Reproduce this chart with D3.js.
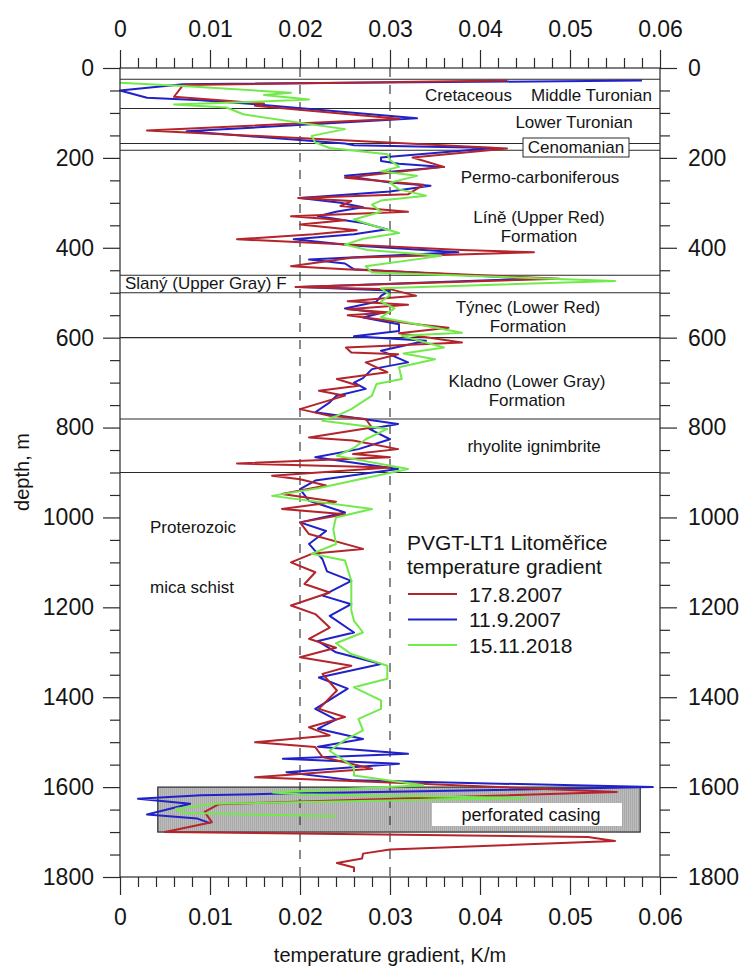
<!DOCTYPE html>
<html>
<head>
<meta charset="utf-8">
<script src="https://cdn.jsdelivr.net/npm/d3@7"></script>
<style>
  body { margin: 0; background: #fff; }
  svg text { font-family: "Liberation Sans", Arial, sans-serif; fill: #151515; }
</style>
</head>
<body>
<svg id="chart" width="745" height="974"></svg>
<script>
// Temperature gradient logs of borehole PVGT-LT1 Litoměřice: [depth m, gradient K/m]
const log_2007_08_17 = [
  [28,0.043],[38,0.007],[64,0.006],[79,0.016],[84,0.015],[113,0.031],[139,0.003],[179,0.043],
  [199,0.0325],[220,0.036],[244,0.025],[260,0.0337],[281,0.032],[289,0.0198],[296,0.0257],[307,0.0245],
  [320,0.032],[330,0.019],[339,0.025],[348,0.020],[361,0.0263],[370,0.0215],[381,0.013],[405,0.038],
  [410,0.046],[422,0.0257],[441,0.019],[448,0.025],[469,0.0488],[487,0.0195],[492,0.030],[507,0.0329],
  [519,0.0253],[527,0.032],[537,0.0253],[544,0.030],[550,0.0253],[570,0.0329],[578,0.0365],[590,0.031],
  [611,0.038],[622,0.0251],[633,0.0257],[637,0.0309],[655,0.0273],[677,0.0297],[692,0.0241],[707,0.0265],
  [718,0.0221],[729,0.025],[759,0.020],[774,0.0233],[781,0.0273],[800,0.028],[822,0.021],[829,0.0259],
  [848,0.0309],[859,0.0259],[866,0.030],[880,0.013],[889,0.030],[907,0.0169],[915,0.020],[929,0.0229],
  [948,0.018],[965,0.024],[981,0.018],[993,0.025],[1011,0.020],[1037,0.021],[1070,0.027],[1081,0.0213],
  [1100,0.019],[1122,0.0217],[1148,0.0205],[1167,0.0233],[1196,0.019],[1215,0.0217],[1245,0.0233],
  [1270,0.021],[1290,0.024],[1311,0.020],[1330,0.0257],[1348,0.0225],[1385,0.0241],[1426,0.0221],
  [1444,0.025],[1467,0.021],[1485,0.0233],[1500,0.015],[1511,0.0217],[1533,0.0225],[1559,0.028],
  [1578,0.015],[1590,0.030],[1611,0.0552],[1638,0.011],[1655,0.0094],[1678,0.0102],[1700,0.005],
  [1711,0.052],[1720,0.055],[1739,0.030],[1748,0.027],[1759,0.0269],[1769,0.0241],[1779,0.026],[1789,0.026]
];
const log_2007_09_11 = [
  [28,0.058],[36,0.007],[50,0.0],[66,0.003],[72,0.009],[81,0.0153],[112,0.033],[141,0.0074],
  [168,0.025],[172,0.026],[178,0.0416],[199,0.029],[207,0.029],[213,0.031],[220,0.036],[240,0.025],
  [255,0.030],[262,0.0345],[275,0.030],[289,0.020],[300,0.0245],[310,0.027],[320,0.024],[330,0.022],
  [345,0.027],[359,0.0297],[370,0.026],[381,0.0193],[395,0.026],[410,0.0376],[426,0.021],[435,0.025],
  [448,0.026],[469,0.046],[487,0.020],[495,0.030],[507,0.029],[520,0.0285],[535,0.025],[545,0.029],
  [555,0.027],[570,0.031],[585,0.031],[597,0.026],[607,0.034],[629,0.029],[655,0.032],[670,0.028],
  [690,0.027],[700,0.026],[714,0.0273],[730,0.024],[744,0.0233],[766,0.0217],[792,0.0309],[803,0.0277],
  [826,0.030],[848,0.0265],[866,0.0217],[892,0.0309],[918,0.0217],[937,0.020],[963,0.021],[989,0.025],
  [1011,0.020],[1030,0.0229],[1059,0.021],[1093,0.0225],[1120,0.023],[1141,0.0257],[1174,0.0225],
  [1193,0.0257],[1219,0.0233],[1256,0.026],[1275,0.022],[1300,0.024],[1326,0.029],[1356,0.0221],
  [1381,0.0253],[1426,0.0217],[1450,0.024],[1470,0.022],[1493,0.027],[1510,0.022],[1526,0.032],
  [1537,0.0181],[1548,0.031],[1567,0.0185],[1585,0.026],[1600,0.0592],[1615,0.017],[1618,0.009],
  [1626,0.002],[1637,0.0078],[1661,0.003],[1670,0.0086],[1680,0.010]
];
const log_2018_11_15 = [
  [33,0.0],[40,0.007],[55,0.019],[60,0.016],[70,0.021],[75,0.015],[81,0.006],[88,0.0118],
  [103,0.0137],[121,0.0197],[136,0.025],[151,0.0213],[166,0.0217],[178,0.0233],[192,0.0297],[205,0.030],
  [220,0.031],[230,0.029],[240,0.033],[255,0.030],[270,0.031],[284,0.034],[295,0.029],[304,0.028],
  [320,0.029],[337,0.026],[350,0.028],[367,0.031],[380,0.027],[393,0.025],[405,0.0275],[418,0.0357],
  [441,0.0273],[455,0.028],[474,0.055],[490,0.029],[505,0.030],[520,0.029],[535,0.0305],[555,0.029],
  [570,0.033],[589,0.038],[596,0.0313],[622,0.036],[635,0.0315],[648,0.035],[666,0.031],[692,0.0313],
  [703,0.0285],[729,0.028],[759,0.0257],[774,0.0241],[785,0.0225],[803,0.0297],[826,0.0273],[845,0.026],
  [863,0.0241],[892,0.032],[918,0.026],[935,0.022],[952,0.0169],[981,0.028],[1000,0.024],[1026,0.0237],
  [1059,0.024],[1081,0.0213],[1096,0.025],[1141,0.0257],[1185,0.0257],[1207,0.0257],[1230,0.026],
  [1256,0.027],[1280,0.024],[1304,0.0257],[1330,0.0297],[1359,0.0297],[1378,0.026],[1407,0.029],
  [1426,0.029],[1448,0.0265],[1474,0.027],[1495,0.025],[1519,0.0233],[1556,0.026],[1574,0.026],
  [1596,0.0337],[1612,0.017],[1616,0.020],[1624,0.045],[1637,0.0106],[1648,0.0062],[1657,0.007],[1665,0.024]
];

const seriesNames = ["17.8.2007", "11.9.2007", "15.11.2018"];
const seriesColors = ["#b3242b", "#2121c9", "#72ea4c"];

// stratigraphic boundaries (m)
const boundaries = [25, 90, 168, 183, 461, 500, 600, 781, 900];
// perforated casing interval (m) and its gradient extent (K/m)
const casingDepth = [1600, 1700];
const casingGrad = [0.0042, 0.0578];

const gradTicks = [0, 0.01, 0.02, 0.03, 0.04, 0.05, 0.06];
const depthTicks = [0, 200, 400, 600, 800, 1000, 1200, 1400, 1600, 1800];

const svg = d3.select("#chart");
const x = d3.scaleLinear().domain([0, 0.06]).range([120, 660]);
const y = d3.scaleLinear().domain([0, 1800]).range([68, 877]);
const ink = "#2a2a2a";

const fmt = d => d === 0 ? "0" : d3.format(".2f")(d);
const fmtDepth = d3.format("d");
const minorGrad = d3.range(0, 0.0601, 0.002).filter(v => Math.abs(v * 100 - Math.round(v * 100)) > 1e-6);
const minorDepth = d3.range(0, 1801, 50).filter(v => v % 200 !== 0);

// casing box with fine vertical hatching
const defs = svg.append("defs");
const pat = defs.append("pattern").attr("id", "hatch").attr("patternUnits", "userSpaceOnUse")
  .attr("width", 2).attr("height", 4);
pat.append("rect").attr("width", 2).attr("height", 4).attr("fill", "#bdbdbd");
pat.append("rect").attr("width", 1).attr("height", 4).attr("fill", "#a9a9a9");

svg.append("rect")
  .attr("x", x(casingGrad[0])).attr("y", y(casingDepth[0]))
  .attr("width", x(casingGrad[1]) - x(casingGrad[0])).attr("height", y(casingDepth[1]) - y(casingDepth[0]))
  .attr("fill", "url(#hatch)").attr("stroke", ink).attr("stroke-width", 1.2);
svg.append("rect").attr("x", 432).attr("y", 803).attr("width", 190).attr("height", 23).attr("fill", "#fff");
svg.append("text").attr("x", 531).attr("y", 821).attr("text-anchor", "middle")
  .attr("font-size", 18).text("perforated casing");

// boundaries
svg.append("g").selectAll("line").data(boundaries).join("line")
  .attr("x1", x(0)).attr("x2", x(0.06)).attr("y1", d => y(d)).attr("y2", d => y(d))
  .attr("stroke", ink).attr("stroke-width", 1.1);

// dashed reference gradients
svg.append("g").selectAll("line").data([0.02, 0.03]).join("line")
  .attr("x1", d => x(d)).attr("x2", d => x(d)).attr("y1", y(0)).attr("y2", y(1800))
  .attr("stroke", ink).attr("stroke-width", 1.1).attr("stroke-dasharray", "9,8");

// gradient curves
const line = d3.line().x(d => x(d[1])).y(d => y(d[0]));
const logs = [log_2007_08_17, log_2007_09_11, log_2018_11_15];
[1, 0, 2].forEach(i => {
  svg.append("path").datum(logs[i]).attr("d", line)
    .attr("fill", "none").attr("stroke", seriesColors[i]).attr("stroke-width", 2)
    .attr("stroke-linejoin", "round");
});

// frame
svg.append("rect").attr("x", x(0)).attr("y", y(0)).attr("width", x(0.06) - x(0)).attr("height", y(1800) - y(0))
  .attr("fill", "none").attr("stroke", ink).attr("stroke-width", 1.2);

// axes
function styleAxis(g) {
  g.select(".domain").remove();
  g.selectAll(".tick line").attr("stroke", ink).attr("stroke-width", 1.2);
  g.selectAll(".tick text").attr("font-size", 23).attr("fill", "#151515")
    .attr("font-family", "'Liberation Sans', Arial, sans-serif");
}
svg.append("g").attr("transform", `translate(0,${y(0)})`)
  .call(d3.axisTop(x).tickValues(gradTicks).tickFormat(fmt).tickSize(18).tickPadding(13)).call(styleAxis);
svg.append("g").attr("transform", `translate(0,${y(0)})`)
  .call(d3.axisTop(x).tickValues(minorGrad).tickFormat("").tickSize(10)).call(styleAxis);
svg.append("g").attr("transform", `translate(0,${y(1800)})`)
  .call(d3.axisBottom(x).tickValues(gradTicks).tickFormat(fmt).tickSize(18).tickPadding(14)).call(styleAxis);
svg.append("g").attr("transform", `translate(0,${y(1800)})`)
  .call(d3.axisBottom(x).tickValues(minorGrad).tickFormat("").tickSize(10)).call(styleAxis);
svg.append("g").attr("transform", `translate(${x(0)},0)`)
  .call(d3.axisLeft(y).tickValues(depthTicks).tickFormat(fmtDepth).tickSize(17).tickPadding(9)).call(styleAxis);
svg.append("g").attr("transform", `translate(${x(0)},0)`)
  .call(d3.axisLeft(y).tickValues(minorDepth).tickFormat("").tickSize(10)).call(styleAxis);
svg.append("g").attr("transform", `translate(${x(0.06)},0)`)
  .call(d3.axisRight(y).tickValues(depthTicks).tickFormat(fmtDepth).tickSize(17).tickPadding(11)).call(styleAxis);
svg.append("g").attr("transform", `translate(${x(0.06)},0)`)
  .call(d3.axisRight(y).tickValues(minorDepth).tickFormat("").tickSize(10)).call(styleAxis);

// axis titles
svg.append("text").attr("x", 390).attr("y", 962).attr("text-anchor", "middle")
  .attr("font-size", 20).text("temperature gradient, K/m");
svg.append("text").attr("transform", "translate(29,472) rotate(-90)").attr("text-anchor", "middle")
  .attr("font-size", 20).text("depth, m");

// stratigraphy labels
const strat = [
  ["Cretaceous", 425, 101, "start"], ["Middle Turonian", 652, 101, "end"],
  ["Lower Turonian", 574, 128, "middle"],
  ["Permo-carboniferous", 540, 183, "middle"],
  ["Líně (Upper Red)", 539, 223, "middle"], ["Formation", 539, 242, "middle"],
  ["Slaný (Upper Gray) F", 125, 289, "start"],
  ["Týnec (Lower Red)", 528, 313, "middle"], ["Formation", 528, 332, "middle"],
  ["Kladno (Lower Gray)", 527, 387, "middle"], ["Formation", 527, 406, "middle"],
  ["rhyolite ignimbrite", 534, 452, "middle"],
  ["Proterozoic", 150, 533, "start"], ["mica schist", 150, 593, "start"]
];
// Cenomanian label sits in a framed box over its thin interval
svg.append("rect").attr("x", 523).attr("y", 138).attr("width", 106).attr("height", 19)
  .attr("fill", "#fff").attr("stroke", ink).attr("stroke-width", 1);
svg.append("text").attr("x", 576).attr("y", 153).attr("text-anchor", "middle")
  .attr("font-size", 17).text("Cenomanian");
svg.append("g").selectAll("text").data(strat).join("text")
  .attr("x", d => d[1]).attr("y", d => d[2]).attr("text-anchor", d => d[3])
  .attr("font-size", 17).text(d => d[0]);

// legend
const lg = svg.append("g");
lg.append("text").attr("x", 407).attr("y", 550).attr("font-size", 21).text("PVGT-LT1 Litoměřice");
lg.append("text").attr("x", 407).attr("y", 574).attr("font-size", 21).text("temperature gradient");
seriesNames.forEach((name, i) => {
  const yy = 594 + i * 25.5;
  lg.append("line").attr("x1", 408).attr("x2", 457).attr("y1", yy).attr("y2", yy)
    .attr("stroke", seriesColors[i]).attr("stroke-width", 2);
  lg.append("text").attr("x", 469).attr("y", yy + 7.5).attr("font-size", 21).text(name);
});
</script>
</body>
</html>
